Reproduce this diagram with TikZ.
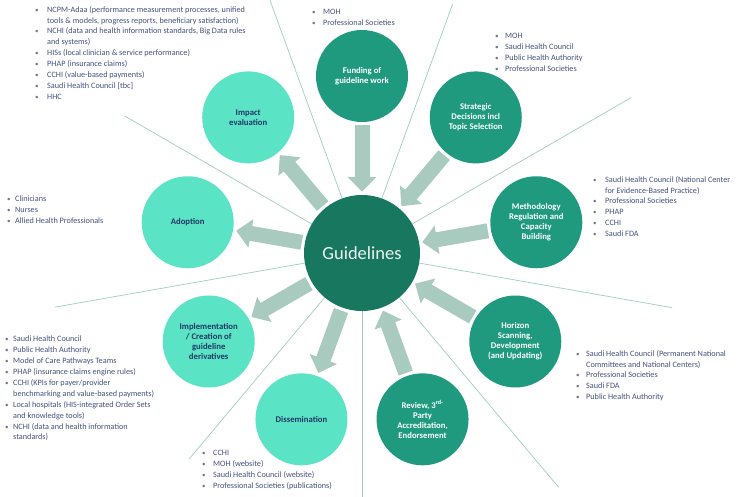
\documentclass[tikz,border=0pt]{standalone}
\usepackage{fontspec}
\setmainfont{Carlito}
\usetikzlibrary{arrows.meta}
\definecolor{ctrgreen}{HTML}{17775F}
\definecolor{darkc}{HTML}{1F9A7F}
\definecolor{lightc}{HTML}{5BE3C6}
\definecolor{arrowc}{HTML}{A9CBBF}
\definecolor{rayc}{HTML}{9CCFC1}
\definecolor{navy}{HTML}{1F3864}
\definecolor{listc}{HTML}{44517E}
\definecolor{bulc}{HTML}{6F7488}
\newcommand\bitem[2][11pt]{\makebox[#1][l]{\textcolor{bulc}{\scriptsize\textbullet}}#2}
\newcommand\citem[2][11pt]{\hspace*{#1}#2}
\begin{document}
\begin{tikzpicture}[x=1pt,y=1pt,
  dark/.style={circle, fill=darkc, minimum size=92pt, inner sep=0pt, align=center, text=white, font=\fontsize{8.7}{10}\selectfont\bfseries},
  light/.style={dark, fill=lightc, text=navy},
  hub/.style={circle, fill=ctrgreen, minimum size=116pt, inner sep=0pt, text=white!92!ctrgreen, font=\fontsize{18.5}{22}\selectfont},
  ray/.style={draw=rayc, line width=0.7pt},
  flow/.style={draw=arrowc, line width=15pt, -{Triangle[width=28pt,length=15pt]}, shorten <=3pt, shorten >=3pt},
  blist/.style={anchor=north west, inner sep=0pt, align=left, text=listc, font=\fontsize{8.2}{10.9}\selectfont}
]
\fill[white] (0,0) rectangle (745,-497);
\useasboundingbox (0,0) rectangle (745,-497);
\coordinate (c0) at (362,-253);
% ray end points
\path (c0) ++(110:270) coordinate (r1);
\path (c0) ++(70:265) coordinate (r2);
\path (c0) ++(30:311) coordinate (r3);
\path (c0) ++(-10:315) coordinate (r4);
\path (c0) ++(-50:306) coordinate (r5);
\path (c0) ++(-90:244) coordinate (r6);
\path (c0) ++(-130:269) coordinate (r7);
\path (c0) ++(-170:312) coordinate (r8);
\path (c0) ++(150:274) coordinate (r9);
\foreach \r in {r1,r2,r3,r4,r5,r6,r7,r8,r9} \draw[ray] (c0) -- (\r);
% hub and circles
\node[hub] (hub) at (c0) {Guidelines};
\path (c0) ++(90:177) node[dark] (fund) {Funding of\\guideline work};
\path (c0) ++(50:177) node[dark] (strat) {Strategic\\Decisions incl\\Topic Selection};
\path (c0) ++(10:177) node[dark] (meth) {Methodology\\Regulation and\\Capacity\\Building};
\path (c0) ++(-30:177) node[dark] (hor) {Horizon\\Scanning,\\Development\\(and Updating)};
\path (c0) ++(-70:177) node[dark] (rev) {Review, 3\textsuperscript{rd-}\\Party\\Accreditation,\\Endorsement};
\path (c0) ++(-110:177) node[light] (diss) {Dissemination};
\path (c0) ++(-150:177) node[light] (impl) {Implementation\\/ Creation of\\guideline\\derivatives};
\path (c0) ++(170:177) node[light] (adop) {Adoption};
\path (c0) ++(130:177) node[light] (impa) {Impact\\evaluation};
% flows
\draw[flow] (fund) -- (hub);
\draw[flow] (strat) -- (hub);
\draw[flow] (meth) -- (hub);
\draw[flow] (hor) -- (hub);
\draw[flow] (rev) -- (hub);
\draw[flow] (hub) -- (diss);
\draw[flow] (hub) -- (impl);
\draw[flow] (hub) -- (adop);
\draw[flow] (hub) -- (impa);
% lists
\node[blist] (l1) at (35,-6) {\bitem[12pt]{NCPM-Adaa (performance measurement processes, unified}\\
\citem[12pt]{tools \& models, progress reports, beneficiary satisfaction)}\\
\bitem[12pt]{NCHI (data and health information standards, Big Data rules}\\
\citem[12pt]{and systems)}\\
\bitem[12pt]{HISs (local clinician \& service performance)}\\
\bitem[12pt]{PHAP (insurance claims)}\\
\bitem[12pt]{CCHI (value-based payments)}\\
\bitem[12pt]{Saudi Health Council [tbc]}\\
\bitem[12pt]{HHC}};
\node[blist] (l2) at (312,-9) {\bitem{MOH}\\ \bitem{Professional Societies}};
\node[blist] (l3) at (495,-33) {\bitem[10pt]{MOH}\\ \bitem[10pt]{Saudi Health Council}\\ \bitem[10pt]{Public Health Authority}\\ \bitem[10pt]{Professional Societies}};
\node[blist] (l4) at (593,-176) {\bitem[12pt]{Saudi Health Council (National Center}\\
\citem[12pt]{for Evidence-Based Practice)}\\
\bitem[12pt]{Professional Societies}\\
\bitem[12pt]{PHAP}\\
\bitem[12pt]{CCHI}\\
\bitem[12pt]{Saudi FDA}};
\node[blist] (l5) at (576,-350) {\bitem[10pt]{Saudi Health Council (Permanent National}\\
\citem[10pt]{Committees and National Centers)}\\
\bitem[10pt]{Professional Societies}\\
\bitem[10pt]{Saudi FDA}\\
\bitem[10pt]{Public Health Authority}};
\node[blist] (l6) at (202,-450) {\bitem{CCHI}\\ \bitem{MOH (website)}\\ \bitem{Saudi Health Council (website)}\\ \bitem{Professional Societies (publications)}};
\node[blist] (l7) at (5,-336) {\bitem[8pt]{Saudi Health Council}\\
\bitem[8pt]{Public Health Authority}\\
\bitem[8pt]{Model of Care Pathways Teams}\\
\bitem[8pt]{PHAP (insurance claims engine rules)}\\
\bitem[8pt]{CCHI (KPIs for payer/provider}\\
\citem[8pt]{benchmarking and value-based payments)}\\
\bitem[8pt]{Local hospitals (HIS-integrated Order Sets}\\
\citem[8pt]{and knowledge tools)}\\
\bitem[8pt]{NCHI (data and health information}\\
\citem[8pt]{standards)}};
\node[blist] (l8) at (7,-196) {\bitem[8pt]{Clinicians}\\ \bitem[8pt]{Nurses}\\ \bitem[8pt]{Allied Health Professionals}};
\end{tikzpicture}
\end{document}
